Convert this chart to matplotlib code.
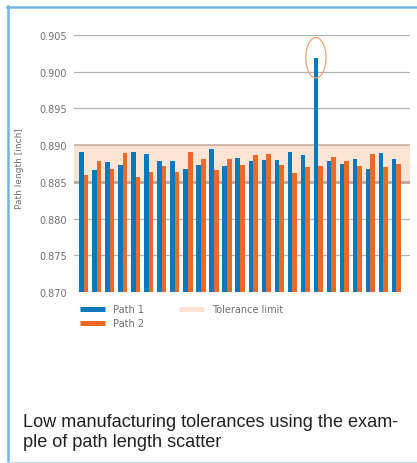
"""
Path length scatter chart: two paths per part, with the tolerance band.
"""
import numpy as np
import matplotlib
matplotlib.use("Agg")
import matplotlib.pyplot as plt
from matplotlib.lines import Line2D
from matplotlib.patches import Ellipse


# ── Data ────────────────────────────────────────────────────────────────────

path1 = [0.8891, 0.8866, 0.8877, 0.8873, 0.8891, 0.8888, 0.8878, 0.8878, 0.8867,
         0.8873, 0.8895, 0.8871, 0.8882, 0.8878, 0.8880, 0.8880, 0.8891, 0.8887,
         0.9019, 0.8878, 0.8875, 0.8881, 0.8867, 0.8889, 0.8881]
path2 = [0.8860, 0.8878, 0.8868, 0.8889, 0.8857, 0.8864, 0.8871, 0.8864, 0.8891,
         0.8881, 0.8866, 0.8881, 0.8873, 0.8887, 0.8888, 0.8873, 0.8862, 0.8870,
         0.8871, 0.8884, 0.8878, 0.8871, 0.8888, 0.8870, 0.8874]
tolerance = (0.885, 0.890)
y_ticks = [0.870, 0.875, 0.880, 0.885, 0.890, 0.895, 0.900, 0.905]

BLUE = "#0779bf"
ORANGE = "#ee6a24"
BAND = "#fce4d4"
GREY_TXT = "#707070"

W, H = 417, 464
fig = plt.figure(figsize=(W / 100, H / 100), dpi=100)
ax = fig.add_axes([74 / W, 1 - 293 / H, 336 / W, 257 / H])

x = np.arange(len(path1))
width = 0.35

# tolerance band + its edges
ax.axhspan(*tolerance, color=BAND, zorder=0, lw=0)
for yv in y_ticks:
    if yv not in tolerance:
        ax.axhline(yv, color="#b3b3b3", lw=0.9, zorder=1)
ax.axhline(tolerance[1], color="#c9a794", lw=1.1, zorder=1)
ax.axhline(tolerance[0], color="#b7a89e", lw=2.0, zorder=1)

ax.bar(x - width / 2, path1, width, color=BLUE, zorder=2)
ax.bar(x + width / 2, path2, width, color=ORANGE, zorder=2)

# mark the outlier
peak = int(np.argmax(path1))
ax.add_patch(Ellipse((peak - width / 2, path1[peak]), 1.55, 0.0055,
                     fill=False, edgecolor="#f2a06e", lw=0.9, zorder=3))

ax.set_ylim(y_ticks[0], y_ticks[-1])
ax.set_xlim(-0.75, len(path1) + 0.05)
ax.set_yticks(y_ticks)
ax.set_yticklabels([f"{v:.3f}" for v in y_ticks])
ax.set_xticks([])
ax.tick_params(axis="y", length=0, pad=5, labelsize=7, labelcolor=GREY_TXT)
for sp in ax.spines.values():
    sp.set_visible(False)
ax.set_facecolor("none")

ax.set_ylabel("Path length [inch]", fontsize=6.5, color=GREY_TXT)
ax.yaxis.set_label_coords(-0.149, 0.486)

handles = [
    Line2D([], [], color=BLUE, lw=3.6, solid_capstyle="butt"),
    Line2D([], [], color=ORANGE, lw=3.6, solid_capstyle="butt"),
    Line2D([], [], color=BAND, lw=3.6, solid_capstyle="butt"),
]
fig.legend(handles, ["Path 1", "Path 2", "Tolerance limit"], ncol=2,
           loc="upper left", bbox_to_anchor=(80 / W, 1 - 305 / H),
           frameon=False, fontsize=7, labelcolor=GREY_TXT, borderpad=0,
           borderaxespad=0, handlelength=2.6, handletextpad=0.8,
           columnspacing=3.6, labelspacing=0.45)

fig.text(23 / W, 1 - 447 / H,
         "Low manufacturing tolerances using the exam-\nple of path length scatter",
         family="Liberation Sans", fontsize=13.1, color="#222222",
         va="baseline", ha="left", linespacing=1.22)

# card frame
fig.add_artist(Line2D([7.5 / W, 7.5 / W], [0, 1 - 7 / H], transform=fig.transFigure,
                      color="#74b4e2", lw=1.8))
fig.add_artist(Line2D([7 / W, 1], [1 - 7.5 / H, 1 - 7.5 / H], transform=fig.transFigure,
                      color="#74b4e2", lw=1.8))
fig.add_artist(Line2D([7 / W, 1], [0.8 / H, 0.8 / H], transform=fig.transFigure,
                      color="#c3dcea", lw=1.0))

fig.savefig("out.png", dpi=100)
